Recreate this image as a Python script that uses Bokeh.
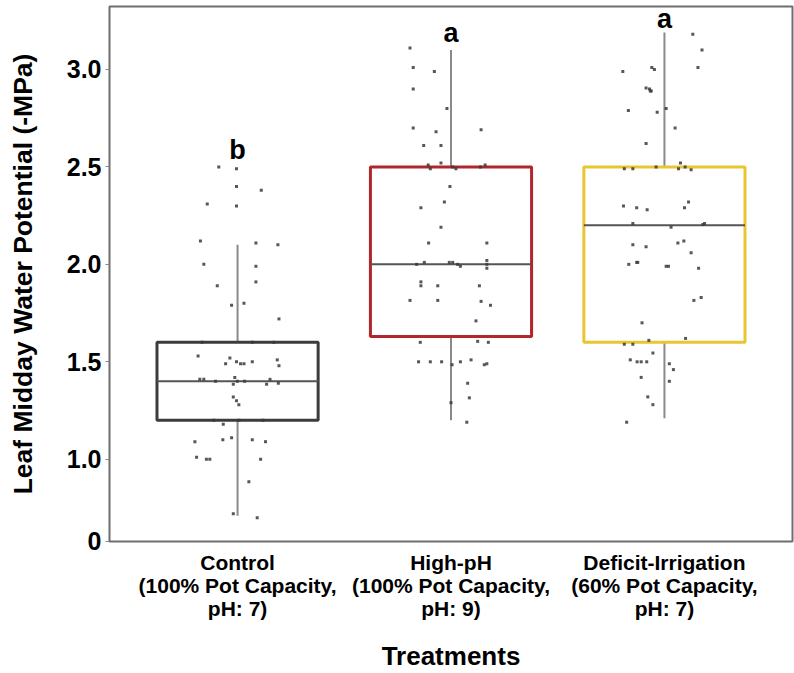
from bokeh.plotting import figure
from bokeh.models import FixedTicker, ColumnDataSource
from bokeh.core.properties import value
from bokeh.embed import file_html
from bokeh.resources import INLINE

# ---------------- data ----------------
treatments = ["Control\n(100% Pot Capacity,\npH: 7)",
              "High-pH\n(100% Pot Capacity,\npH: 9)",
              "Deficit-Irrigation\n(60% Pot Capacity,\npH: 7)"]
positions = [1, 2, 3]
q1 = [1.20, 1.63, 1.60]
median = [1.40, 2.00, 2.20]
q3 = [1.60, 2.50, 2.50]
whisker_low = [0.71, 1.20, 1.21]
whisker_high = [2.10, 3.10, 3.19]
box_colors = ["#3c3c3c", "#b0262c", "#e9c531"]
letters = ["b", "a", "a"]
letter_y = [2.585, 3.185, 3.26]

control_vals = [2.50, 2.49, 2.40, 2.38, 2.31, 2.30, 2.12, 2.11, 2.10, 2.00, 1.99, 1.89, 1.91,
                1.79, 1.80, 1.72, 1.60, 1.60, 1.60, 1.53, 1.49, 1.52, 1.50, 1.49, 1.49, 1.50,
                1.51, 1.48, 1.41, 1.41, 1.40, 1.42, 1.385, 1.40, 1.40, 1.385, 1.41, 1.39,
                1.32, 1.30, 1.28, 1.20, 1.18, 1.20, 1.20, 1.09, 1.10, 1.11, 1.10, 1.09,
                1.01, 1.00, 1.00, 1.00, 0.885, 0.72, 0.70]
control_jit = [-0.088, -0.005, -0.005, 0.111, -0.142, -0.005, -0.174, 0.086, 0.189, -0.158,
               0.086, -0.095, 0.086, -0.028, 0.030, 0.194, -0.166, 0.069, 0.170, -0.185,
               -0.056, -0.036, -0.005, 0.014, 0.030, 0.069, 0.186, 0.194, -0.177, -0.158,
               -0.103, -0.013, -0.020, -0.001, 0.033, 0.136, 0.152, 0.191, -0.020, -0.005,
               0.006, -0.111, -0.067, 0.006, 0.119, -0.200, -0.069, -0.028, 0.069, 0.131,
               -0.192, -0.146, -0.130, 0.108, 0.053, -0.020, 0.092]

highph_vals = [3.11, 3.01, 2.99, 2.90, 2.80, 2.70, 2.68, 2.69, 2.61, 2.61, 2.51, 2.49, 2.52,
               2.50, 2.49, 2.50, 2.51, 2.40, 2.32, 2.29, 2.19, 2.11, 2.11, 2.00, 2.01, 2.01,
               2.01, 2.00, 1.99, 2.02, 2.00, 1.98, 1.91, 1.89, 1.89, 1.89, 1.815, 1.815,
               1.81, 1.79, 1.71, 1.60, 1.605, 1.60, 1.50, 1.50, 1.50, 1.485, 1.50, 1.51,
               1.485, 1.49, 1.39, 1.315, 1.29, 1.19]
highph_jit = [-0.192, -0.177, -0.078, -0.177, -0.019, -0.177, -0.070, 0.141, -0.128, -0.047,
              -0.107, -0.097, -0.047, 0.008, 0.023, 0.138, 0.160, -0.005, -0.031, -0.141,
              -0.047, -0.105, 0.168, -0.161, -0.125, -0.008, 0.008, 0.031, 0.044, 0.168,
              0.168, 0.168, -0.141, -0.141, -0.062, 0.133, -0.192, -0.062, 0.141, 0.185,
              0.117, -0.144, 0.125, 0.175, -0.152, -0.097, -0.044, 0.005, 0.044, 0.094,
              0.156, 0.168, 0.078, 0.086, 0.000, 0.074]

deficit_vals = [3.18, 3.10, 2.99, 3.01, 3.00, 3.01, 2.905, 2.90, 2.89, 2.89, 2.79, 2.78, 2.80,
                2.70, 2.62, 2.49, 2.49, 2.50, 2.49, 2.52, 2.50, 2.485, 2.30, 2.29, 2.28, 2.29,
                2.32, 2.21, 2.19, 2.205, 2.21, 2.10, 2.09, 2.11, 2.12, 2.06, 2.00, 2.01, 2.01,
                1.99, 1.99, 1.98, 1.815, 1.83, 1.70, 1.61, 1.62, 1.59, 1.59, 1.545, 1.51,
                1.50, 1.50, 1.50, 1.49, 1.46, 1.42, 1.40, 1.32, 1.28, 1.19]
deficit_jit = [0.133, 0.176, -0.195, -0.059, -0.047, 0.157, -0.086, -0.070, -0.062, -0.066,
               -0.169, -0.034, 0.008, 0.050, -0.086, -0.188, -0.148, -0.039, 0.066, 0.075,
               0.097, 0.125, -0.192, -0.130, -0.081, 0.094, 0.113, -0.148, 0.031, 0.180,
               0.188, -0.148, -0.086, 0.063, 0.091, 0.125, -0.167, -0.130, -0.125, 0.008,
               0.019, 0.160, 0.138, 0.172, -0.105, -0.073, 0.099, -0.188, -0.148, -0.054,
               -0.160, -0.128, -0.109, -0.083, 0.023, 0.042, -0.109, 0.023, -0.078, -0.054,
               -0.177]

y_ticks = [0.58, 1.0, 1.5, 2.0, 2.5, 3.0]
y_tick_labels = {0.58: "0", 1.0: "1.0", 1.5: "1.5", 2.0: "2.0", 2.5: "2.5", 3.0: "3.0"}

# ---------------- figure ----------------
FONT = "Liberation Sans"
p = figure(width=794, height=673, frame_width=683, frame_height=535,
           x_range=(0.4, 3.6), y_range=(0.578, 3.323),
           output_backend="svg", toolbar_location=None,
           min_border_left=109, min_border_right=2, min_border_top=6, min_border_bottom=132)
p.background_fill_color = "white"
p.border_fill_color = "white"
p.outline_line_color = "#6e6e6e"
p.outline_line_width = 2
p.xgrid.visible = False
p.ygrid.visible = False

# whiskers
p.segment(x0=positions, y0=whisker_low, x1=positions, y1=whisker_high,
          line_color="#8a8a8a", line_width=2)
# boxes
box_w = 0.755
src = ColumnDataSource(dict(x=positions, top=q3, bottom=q1, color=box_colors))
p.vbar(x="x", top="top", bottom="bottom", width=box_w, source=src,
       fill_color="white", line_color="color", line_width=3)
# medians
p.segment(x0=[x - box_w / 2 for x in positions], y0=median,
          x1=[x + box_w / 2 for x in positions], y1=median,
          line_color="#555555", line_width=2)

# jittered points
for pos, vals, jit in [(1, control_vals, control_jit),
                       (2, highph_vals, highph_jit),
                       (3, deficit_vals, deficit_jit)]:
    p.scatter(x=[pos + j for j in jit], y=vals, marker="square", size=3,
              fill_color="#3a3a3a", line_color=None, fill_alpha=0.85)

# significance letters
p.text(x=positions, y=letter_y, text=letters, text_font=value(FONT),
       text_font_style="bold", text_font_size="27px", text_align="center",
       text_baseline="middle", text_color="black")

# axes
p.yaxis.ticker = FixedTicker(ticks=y_ticks)
p.yaxis.major_label_overrides = y_tick_labels
p.yaxis.axis_line_color = None
p.yaxis.major_tick_line_color = "#888888"
p.yaxis.major_tick_out = 4
p.yaxis.major_tick_in = 0
p.yaxis.minor_tick_line_color = None
p.yaxis.major_label_text_font = FONT
p.yaxis.major_label_text_font_style = "bold"
p.yaxis.major_label_text_font_size = "25px"
p.yaxis.major_label_text_color = "black"
p.yaxis.major_label_standoff = 4
p.yaxis.axis_label = "Leaf Midday Water Potential (-MPa)"
p.yaxis.axis_label_text_font = FONT
p.yaxis.axis_label_text_font_style = "bold"
p.yaxis.axis_label_text_font_size = "26.5px"
p.yaxis.axis_label_text_color = "black"
p.yaxis.axis_label_standoff = 26

p.xaxis.ticker = FixedTicker(ticks=positions)
p.xaxis.major_label_overrides = {pos: lab for pos, lab in zip(positions, treatments)}
p.xaxis.axis_line_color = None
p.xaxis.major_tick_line_color = None
p.xaxis.minor_tick_line_color = None
p.xaxis.major_label_text_font = FONT
p.xaxis.major_label_text_font_style = "bold"
p.xaxis.major_label_text_font_size = "21px"
p.xaxis.major_label_text_color = "black"
p.xaxis.major_label_text_line_height = 1.02
p.xaxis.major_label_standoff = 3
p.xaxis.axis_label = "Treatments"
p.xaxis.axis_label_text_font = FONT
p.xaxis.axis_label_text_font_style = "bold"
p.xaxis.axis_label_text_font_size = "26px"
p.xaxis.axis_label_text_color = "black"
p.xaxis.axis_label_standoff = 18

open("out.html", "w").write(file_html(p, INLINE))
